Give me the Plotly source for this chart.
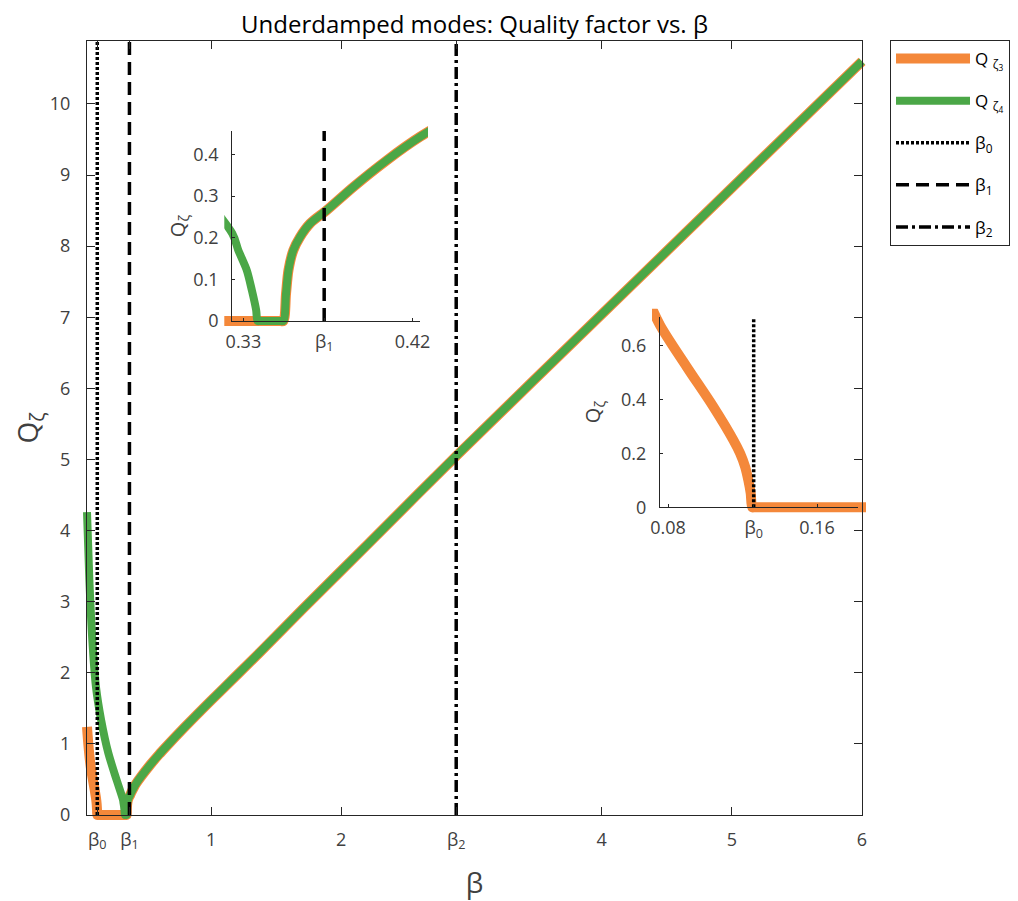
import plotly.graph_objects as go

# ---------------- data ----------------
beta0 = 0.126
beta1 = 0.373
beta2 = 2.883

# Q_zeta3 (orange)
q3_beta = [0.047, 0.058, 0.0675, 0.0757, 0.090, 0.1043, 0.1151, 0.1187, 0.1214, 0.1231,
           0.1244, 0.1252, 0.1262, 0.135, 0.16, 0.20, 0.25, 0.30, 0.33, 0.345, 0.3495,
           0.3513, 0.3527, 0.3540, 0.3566, 0.3602, 0.3655, 0.3744,
           0.3886, 0.4064, 0.4240, 0.46, 0.53, 0.60, 0.66, 0.80, 1.0, 1.2, 1.376,
           1.7, 2.2, 2.883, 4.0, 5.0, 6.0]
q3_val = [1.24, 0.98, 0.80, 0.675, 0.521, 0.373, 0.249, 0.200, 0.150, 0.101,
          0.052, 0.0, 0.0, 0.0, 0.0, 0.0, 0.0, 0.0, 0.0, 0.0, 0.0,
          0.0, 0.066, 0.122, 0.170, 0.202, 0.234, 0.266,
          0.322, 0.386, 0.442, 0.535, 0.70, 0.85, 0.97, 1.24, 1.61, 1.97, 2.29,
          2.89, 3.80, 5.05, 7.04, 8.82, 10.6]

# Q_zeta4 (green)
q4_beta = [0.047, 0.065, 0.091, 0.116, 0.155, 0.211, 0.275, 0.3241, 0.3273, 0.3318,
           0.3345, 0.3368, 0.3375, 0.3385, 0.342, 0.346, 0.3495, 0.3513, 0.3527, 0.3540,
           0.3566, 0.3602, 0.3655, 0.3744,
           0.3886, 0.4064, 0.4240, 0.46, 0.53, 0.60, 0.66, 0.80, 1.0, 1.2, 1.376,
           1.7, 2.2, 2.883, 4.0, 5.0, 6.0]
q4_val = [4.26, 3.31, 2.37, 1.80, 1.34, 0.87, 0.49, 0.21, 0.170, 0.122,
          0.074, 0.026, 0.0, 0.0, 0.0, 0.0, 0.0, 0.0, 0.066, 0.122,
          0.170, 0.202, 0.234, 0.266,
          0.322, 0.386, 0.442, 0.535, 0.70, 0.85, 0.97, 1.24, 1.61, 1.97, 2.29,
          2.89, 3.80, 5.05, 7.04, 8.82, 10.6]

main_xticks = [beta0, beta1, 1, 2, beta2, 4, 5, 6]
main_xticktext = ["β<sub>0</sub>", "β<sub>1</sub>", "1", "2", "β<sub>2</sub>", "4", "5", "6"]
main_yticks = list(range(0, 11))

inset1_xticks = [0.33, beta1, 0.42]
inset1_xticktext = ["0.33", "β<sub>1</sub>", "0.42"]
inset1_yticks = [0, 0.1, 0.2, 0.3, 0.4]

inset2_xticks = [0.08, beta0, 0.16]
inset2_xticktext = ["0.08", "β<sub>0</sub>", "0.16"]
inset2_yticks = [0, 0.2, 0.4, 0.6]

# ---------------- style / layout ----------------
ORANGE = "#F4883A"
GREEN = "#4BA747"
INK = "#262626"
TICKC = "#404040"
FONT = "Open Sans"

W, H = 1010, 893   # page body has an 8px margin
OFF = 8

MAIN_X = [0.047, 6.0]
MAIN_Y = [0, 10.89]
IN1_X = [0.3241, 0.4240]
IN1_Y = [0, 0.456]
IN2_X = [0.0757, 0.182]
IN2_Y = [0, 0.706]

# pixel boxes on the page (left, right, top, bottom)
MAIN_BOX = (87, 862, 40.7, 815)
IN1_BOX = (232.3, 420, 131, 321)
IN2_BOX = (660, 858, 316.7, 507.3)
PAD = 8  # px of room for thick line caps beyond axes


def dom(box, pad=0):
    L, R, T, B = box
    return ([(L - pad - OFF) / W, (R + pad - OFF) / W],
            [1 - (B + pad - OFF) / H, 1 - (T - pad - OFF) / H])


def padrange(rng, lo_px, hi_px, pad):
    per = (rng[1] - rng[0]) / (hi_px - lo_px)
    return [rng[0] - pad * per, rng[1] + pad * per]


fig = go.Figure()

DOT = "3px,2px"
DASH = "13px,7px"
DASHDOT = "12px,4px,3px,4px"


def add_curves(xa, ya, show):
    fig.add_trace(go.Scatter(x=q3_beta, y=q3_val, mode="lines", xaxis=xa, yaxis=ya,
                             line=dict(color=ORANGE, width=10, shape="spline", smoothing=0.8),
                             showlegend=show,
                             name="Q <sub>ζ<sub>3</sub></sub>", legendgroup="a"))
    fig.add_trace(go.Scatter(x=q4_beta, y=q4_val, mode="lines", xaxis=xa, yaxis=ya,
                             line=dict(color=GREEN, width=8, shape="spline", smoothing=0.8),
                             showlegend=show,
                             name="Q <sub>ζ<sub>4</sub></sub>", legendgroup="b"))


# curves live on hidden overlay axes (x, x2, x3) slightly larger than the frames,
# so thick lines can overhang the frame like in the reference
add_curves("x", "y", True)
# frames: x4/y4 main, x5/y5 inset 1, x6/y6 inset 2 (drawn above the curves)
fig.add_trace(go.Scatter(x=[beta0, beta0], y=MAIN_Y, mode="lines", xaxis="x4", yaxis="y4",
                         line=dict(color="black", width=3.5, dash=DOT),
                         name="β<sub>0</sub>", legendgroup="c"))
fig.add_trace(go.Scatter(x=[beta1, beta1], y=MAIN_Y, mode="lines", xaxis="x4", yaxis="y4",
                         line=dict(color="black", width=3.5, dash=DASH),
                         name="β<sub>1</sub>", legendgroup="d"))
fig.add_trace(go.Scatter(x=[beta2, beta2], y=MAIN_Y, mode="lines", xaxis="x4", yaxis="y4",
                         line=dict(color="black", width=3.5, dash=DASHDOT),
                         name="β<sub>2</sub>", legendgroup="e"))

add_curves("x2", "y2", False)
fig.add_trace(go.Scatter(x=[beta1, beta1], y=IN1_Y, mode="lines", xaxis="x5", yaxis="y5",
                         line=dict(color="black", width=3.5, dash=DASH), showlegend=False))
add_curves("x3", "y3", False)
fig.add_trace(go.Scatter(x=[beta0, beta0], y=[0, 0.697], mode="lines", xaxis="x6", yaxis="y6",
                         line=dict(color="black", width=3.5, dash=DOT), showlegend=False))

tickfont = dict(family=FONT, size=18, color=TICKC)

mx, my = dom(MAIN_BOX)
mxo, myo = dom(MAIN_BOX, PAD)
i1x, i1y = dom(IN1_BOX)
i1xo, i1yo = dom(IN1_BOX, PAD)
i2x, i2y = dom(IN2_BOX)
i2xo, i2yo = dom(IN2_BOX, PAD)

hidden = dict(visible=False, showgrid=False, zeroline=False, fixedrange=True)

common_frame = dict(ticks="inside", tickcolor=INK, showline=True, linecolor=INK,
                    linewidth=1.2, showgrid=False, zeroline=False, automargin=False,
                    tickfont=tickfont, tickmode="array")

fig.update_layout(
    width=W, height=H,
    margin=dict(l=0, r=0, t=0, b=0),
    plot_bgcolor="rgba(0,0,0,0)", paper_bgcolor="white",
    font=dict(family=FONT, color=INK),
    title=dict(text="Underdamped modes: Quality factor vs. β",
               x=((MAIN_BOX[0] + MAIN_BOX[1]) / 2 - OFF) / W, xref="container",
               y=1 - (25 - OFF) / H, yref="container", yanchor="middle", xanchor="center",
               font=dict(family=FONT, size=24, color="black")),
    showlegend=True,
    legend=dict(x=(890 - OFF) / W, y=1 - (40 - OFF) / H, xanchor="left", yanchor="top",
                bordercolor=INK, borderwidth=1, bgcolor="white",
                font=dict(family=FONT, size=17, color="black"),
                tracegroupgap=17, itemwidth=74),
    xaxis=dict(domain=mxo, anchor="y", range=padrange(MAIN_X, MAIN_BOX[0], MAIN_BOX[1], PAD), **hidden),
    yaxis=dict(domain=myo, anchor="x", range=padrange(MAIN_Y, -MAIN_BOX[3], -MAIN_BOX[2], PAD), **hidden),
    xaxis2=dict(domain=i1xo, anchor="y2", range=padrange(IN1_X, IN1_BOX[0], IN1_BOX[1], PAD), **hidden),
    yaxis2=dict(domain=i1yo, anchor="x2", range=padrange(IN1_Y, -IN1_BOX[3], -IN1_BOX[2], PAD), **hidden),
    xaxis3=dict(domain=i2xo, anchor="y3", range=padrange(IN2_X, IN2_BOX[0], IN2_BOX[1], PAD), **hidden),
    yaxis3=dict(domain=i2yo, anchor="x3", range=padrange(IN2_Y, -IN2_BOX[3], -IN2_BOX[2], PAD), **hidden),
    xaxis4=dict(domain=mx, anchor="y4", range=MAIN_X, tickvals=main_xticks,
                ticktext=main_xticktext, ticklen=8, mirror="ticks", ticklabelstandoff=8,
                title=dict(text="β", font=dict(family=FONT, size=28, color=TICKC), standoff=20),
                **common_frame),
    yaxis4=dict(domain=my, anchor="x4", range=MAIN_Y, tickvals=main_yticks,
                ticklen=8, mirror="ticks", ticklabelstandoff=12,
                title=dict(text="Q<sub>ζ</sub>", font=dict(family=FONT, size=28, color=TICKC), standoff=3),
                **common_frame),
    xaxis5=dict(domain=i1x, anchor="y5", range=IN1_X, tickvals=inset1_xticks,
                ticktext=inset1_xticktext, ticklen=3, ticklabelstandoff=4, **common_frame),
    yaxis5=dict(domain=i1y, anchor="x5", range=IN1_Y, tickvals=inset1_yticks,
                ticklen=3, ticklabelstandoff=9,
                title=dict(text="Q<sub>ζ</sub>", font=dict(family=FONT, size=20, color=TICKC), standoff=1),
                **common_frame),
    xaxis6=dict(domain=i2x, anchor="y6", range=IN2_X, tickvals=inset2_xticks,
                ticktext=inset2_xticktext, ticklen=3, ticklabelstandoff=4, **common_frame),
    yaxis6=dict(domain=i2y, anchor="x6", range=IN2_Y, tickvals=inset2_yticks,
                ticklen=3, ticklabelstandoff=9,
                title=dict(text="Q<sub>ζ</sub>", font=dict(family=FONT, size=20, color=TICKC), standoff=14),
                **common_frame),
)

fig.write_html("out.html")
